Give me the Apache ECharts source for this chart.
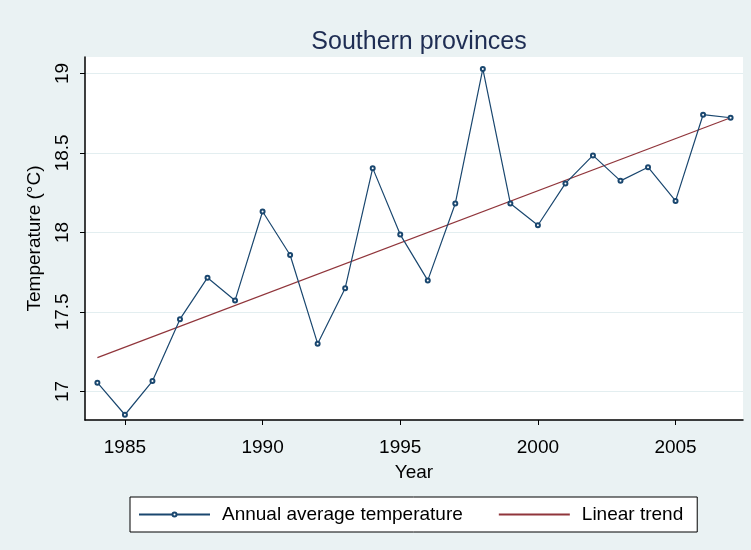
<!DOCTYPE html>
<html>
<head>
<meta charset="utf-8">
<script src="https://cdn.jsdelivr.net/npm/echarts@6/dist/echarts.min.js"></script>
<style>
  html, body { margin: 0; padding: 0; background: #fff; }
  #chart { width: 751px; height: 550px; }
</style>
</head>
<body>
<div id="chart"></div>
<script>
var years = [1984, 1985, 1986, 1987, 1988, 1989, 1990, 1991, 1992, 1993, 1994, 1995,
             1996, 1997, 1998, 1999, 2000, 2001, 2002, 2003, 2004, 2005, 2006, 2007];
var temps = [17.055, 16.853, 17.065, 17.454, 17.715, 17.572, 18.131, 17.858, 17.30, 17.649, 18.404, 17.986,
             17.698, 18.182, 19.028, 18.182, 18.045, 18.308, 18.484, 18.324, 18.410, 18.198, 18.740, 18.721];
var trendYears = [1984, 2007];
var trendVals = [17.212, 18.721];
var xTicks = [1985, 1990, 1995, 2000, 2005];
var yTicks = [17, 17.5, 18, 18.5, 19];

var font = '"Liberation Sans", Arial, sans-serif';

var chart = echarts.init(document.getElementById('chart'));
chart.setOption({
    backgroundColor: '#eaf2f3',
    animation: false,
    textStyle: { fontFamily: font },
    title: {
        text: 'Southern provinces',
        left: 414,
        textAlign: 'center',
        top: 25,
        textStyle: { fontSize: 25, fontWeight: 'normal', color: '#1e2d53', fontFamily: font }
    },
    grid: {
        left: 85, right: 8, top: 57, bottom: 130,
        show: true, backgroundColor: '#fff', borderWidth: 0
    },
    legend: {
        left: 130, top: 497,
        backgroundColor: '#fff',
        borderColor: '#000',
        borderWidth: 1,
        padding: [8, 14, 8, 8],
        itemGap: 35,
        itemWidth: 71,
        itemHeight: 5,
        textStyle: { fontSize: 19, color: '#000', fontFamily: font, padding: [0, 0, 0, 7] },
        data: [
            { name: 'Annual average temperature' },
            { name: 'Linear trend', itemStyle: { opacity: 0 } }
        ]
    },
    xAxis: {
        type: 'value',
        min: 1983.55,
        max: 2007.45,
        name: 'Year',
        nameLocation: 'middle',
        nameGap: 43,
        nameTextStyle: { fontSize: 19, color: '#000', fontFamily: font },
        axisLine: { show: true, lineStyle: { color: '#000', width: 1.5 } },
        axisTick: { show: true, length: 5, lineStyle: { color: '#000' }, customValues: xTicks },
        axisLabel: { fontSize: 19, color: '#000', margin: 18, customValues: xTicks, formatter: function (v) { return String(v); } },
        splitLine: { show: false }
    },
    yAxis: {
        type: 'value',
        min: 16.82,
        max: 19.103,
        name: 'Temperature (°C)',
        nameLocation: 'middle',
        nameGap: 41,
        nameTextStyle: { fontSize: 19, color: '#000', fontFamily: font },
        axisLine: { show: true, lineStyle: { color: '#000', width: 1.5 } },
        axisTick: { show: true, length: 5, lineStyle: { color: '#000' }, customValues: yTicks },
        axisLabel: { fontSize: 19, color: '#000', rotate: 90, margin: 13, customValues: yTicks, formatter: function (v) { return String(v); } },
        splitLine: { show: true, lineStyle: { color: '#e3eef0', width: 1 } }
    },
    series: [
        {
            name: 'Annual average temperature',
            type: 'line',
            data: years.map(function (y, i) { return [y, temps[i]]; }),
            symbol: 'emptyCircle',
            symbolSize: 4,
            showSymbol: true,
            color: '#1a476f',
            lineStyle: { color: '#1a476f', width: 1.2 },
            itemStyle: { color: '#1a476f', borderWidth: 1 },
            z: 3
        },
        {
            name: 'Linear trend',
            type: 'line',
            data: trendYears.map(function (y, i) { return [y, trendVals[i]]; }),
            symbol: 'none',
            color: '#90353b',
            lineStyle: { color: '#90353b', width: 1.2 },
            z: 2
        }
    ]
});
</script>
</body>
</html>
